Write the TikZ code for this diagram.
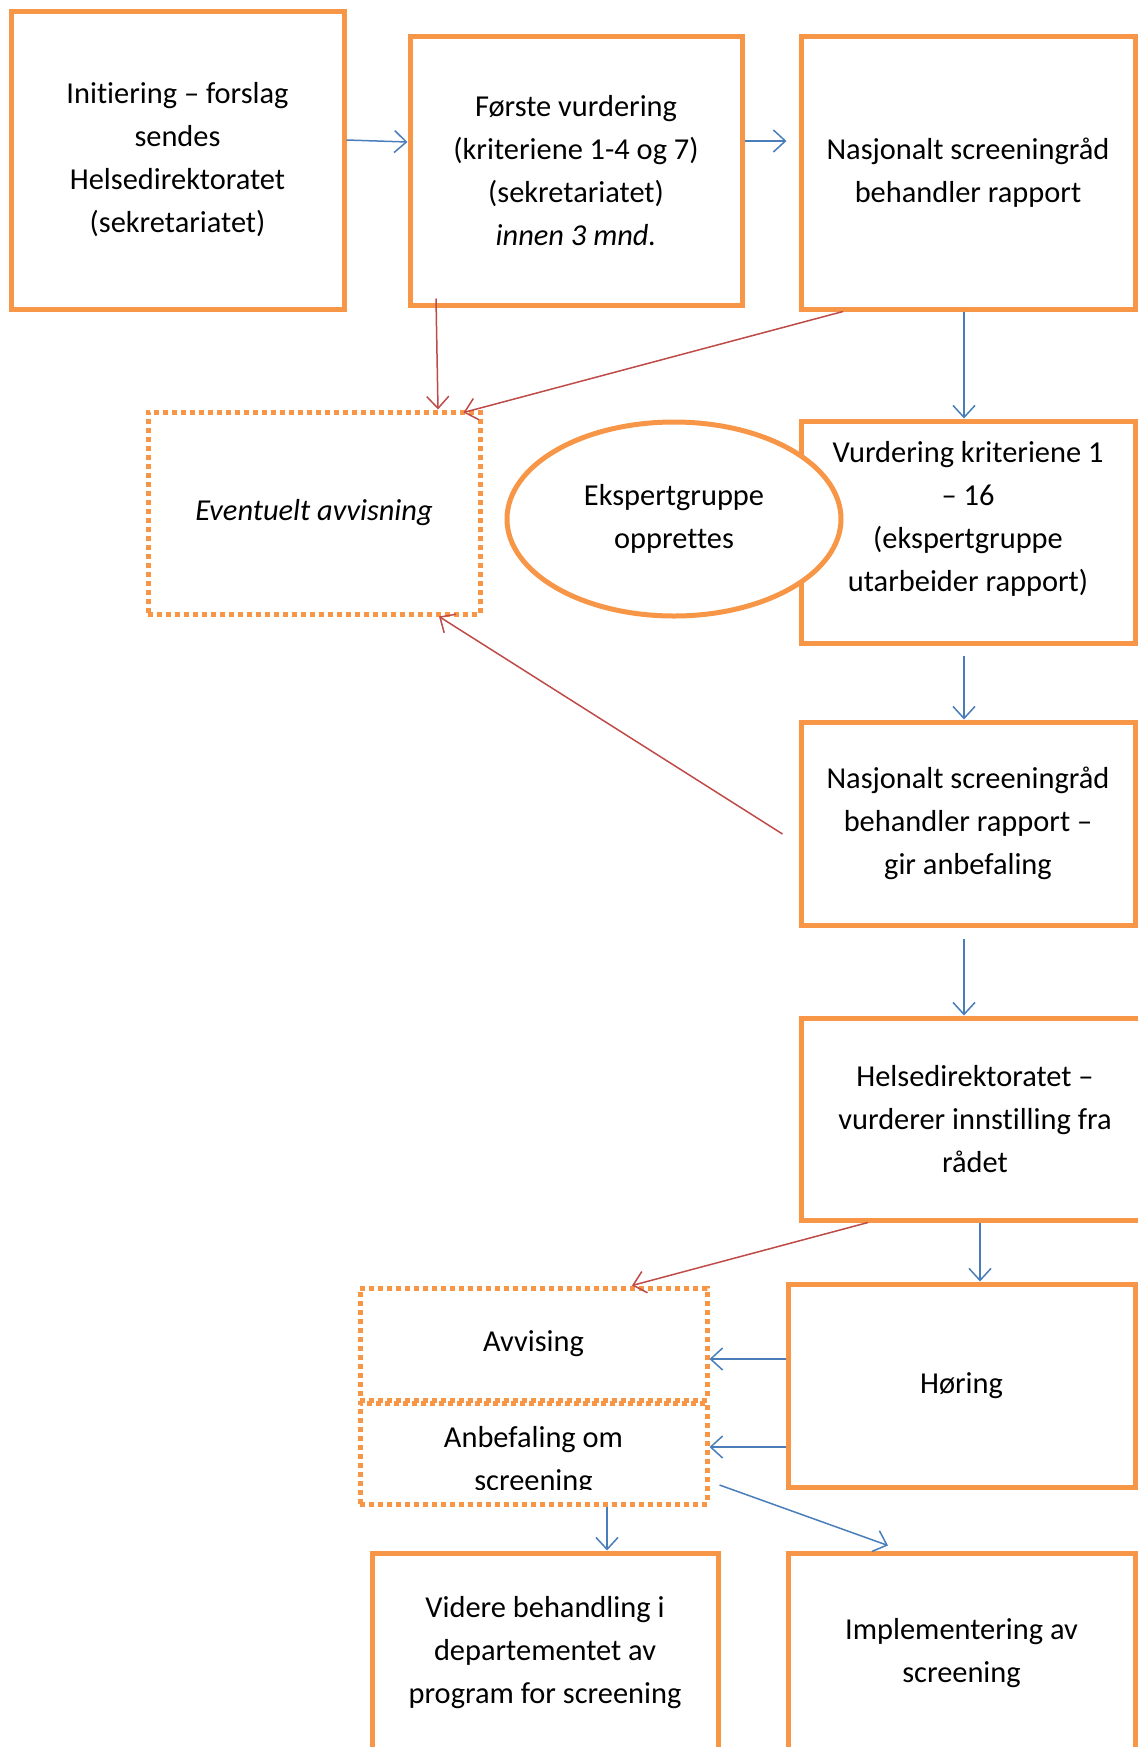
\documentclass[tikz,border=0pt]{standalone}
\usepackage{fontspec}
\setmainfont{Carlito}[Ligatures=NoCommon]
\usetikzlibrary{arrows.meta,shapes.geometric}
\definecolor{obox}{HTML}{F79646}
\definecolor{barr}{HTML}{4A7EBB}
\definecolor{rarr}{HTML}{BE4B48}
\tikzset{
  txt/.style={font=\fontsize{15.2}{21.5}\selectfont, align=center, text=black},
  solidbox/.style={draw=obox, line width=2.5pt, fill=white, inner sep=0pt, txt},
  dotbox/.style={draw=obox, line width=2.5pt, dash pattern=on 2.5pt off 2pt, inner sep=0pt, txt},
  ovalbox/.style={ellipse, draw=obox, line width=2.5pt, fill=white, inner sep=0pt, txt},
  barrow/.style={draw=barr, line width=0.75pt, -{Straight Barb[length=6pt,width=11pt]}},
  rarrow/.style={draw=rarr, line width=0.75pt, -{Straight Barb[length=6pt,width=11pt]}},
}
\begin{document}
\begin{tikzpicture}[x=0.5pt,y=-0.5pt]
\useasboundingbox (0,0) rectangle (1138,1747);
% boxes
\node[solidbox, minimum width=166.5pt, minimum height=149pt] (b1) at (177.5,160)
  {Initiering – forslag\\sendes\\Helsedirektoratet\\(sekretariatet)};
\node[solidbox, minimum width=166pt, minimum height=134.5pt] (b2) at (576,170.5)
  {Første vurdering\\(kriteriene 1-4 og 7)\\(sekretariatet)\\\textit{innen 3 mnd.}};
\node[solidbox, minimum width=167pt, minimum height=136.5pt] (b3) at (968,172.5)
  {Nasjonalt screeningråd\\behandler rapport};
\node[dotbox, minimum width=166pt, minimum height=101pt] (ev) at (314,513)
  {\textit{Eventuelt avvisning}};
\node[solidbox, minimum width=167pt, minimum height=111pt] (vur) at (968,532) {};
\node[ovalbox, minimum width=167pt, minimum height=97pt] (eks) at (674,519)
  {Ekspertgruppe\\opprettes};
\node[txt] (vurtext) at (968,519)
  {Vurdering kriteriene 1\\– 16\\(ekspertgruppe\\utarbeider rapport)};
\node[solidbox, minimum width=167pt, minimum height=101.5pt] (n2) at (968,823.5)
  {Nasjonalt screeningråd\\behandler rapport –\\gir anbefaling};
\node[solidbox, minimum width=174pt, minimum height=101pt] (hd) at (975,1119)
  {Helsedirektoratet –\\vurderer innstilling fra\\rådet};
\node[dotbox, minimum width=173.5pt, minimum height=56pt] (av) at (533.5,1344)
  {Avvising};
\node[dotbox, minimum width=173.5pt, minimum height=50.5pt] (an) at (533.5,1453.5) {};
\begin{scope}
  \clip (362,1405) rectangle (705,1489);
  \node[txt] (antext) at (533.5,1461) {Anbefaling om\\screening};
\end{scope}
\node[solidbox, minimum width=173.5pt, minimum height=101.5pt] (hor) at (961.5,1385.5)
  {Høring};
\node[solidbox, minimum width=173pt, minimum height=100pt] (vid) at (545,1653)
  {Videre behandling i\\departementet av\\program for screening};
\node[solidbox, minimum width=173.5pt, minimum height=100pt] (imp) at (961.5,1653)
  {Implementering av\\screening};
% connectors
\draw[barrow] ([yshift=10pt]b1.east) -- ([yshift=14.25pt]b2.west);
\draw[barrow, shorten >=6pt] ([yshift=14.75pt]b2.east) -- ([yshift=15.75pt]b3.west);
\draw[rarrow] ([xshift=-70pt,yshift=4.5pt]b2.south) -- ([xshift=62pt]ev.north);
\draw[rarrow] ([xshift=-62.5pt]b3.south) -- ([xshift=-9.5pt,yshift=-1.5pt]ev.north east);
\draw[barrow] ([xshift=-2pt]b3.south) -- ([xshift=-2pt]vur.north);
\draw[barrow] ([xshift=-2pt,yshift=-5pt]vur.south) -- ([xshift=-2pt]n2.north);
\draw[rarrow] ([xshift=-8pt,yshift=-5.25pt]n2.west) -- ([xshift=62.5pt]ev.south);
\draw[barrow] ([xshift=-2pt,yshift=-5.5pt]n2.south) -- ([xshift=-5.5pt]hd.north);
\draw[rarrow] ([xshift=-53.5pt]hd.south) -- ([xshift=49.25pt]av.north);
\draw[barrow] ([xshift=2.5pt]hd.south) -- ([xshift=9.25pt]hor.north);
\draw[barrow] ([yshift=13.25pt]hor.west) -- ([yshift=-7.5pt]av.east);
\draw[barrow] ([yshift=-30.75pt]hor.west) -- ([yshift=3.25pt]an.east);
\draw[barrow] ([xshift=36.75pt]an.south) -- ([xshift=31pt]vid.north);
\draw[barrow] ([xshift=5pt,yshift=-15.75pt]an.east) -- ([xshift=-36.75pt,yshift=2.5pt]imp.north);
\end{tikzpicture}
\end{document}
